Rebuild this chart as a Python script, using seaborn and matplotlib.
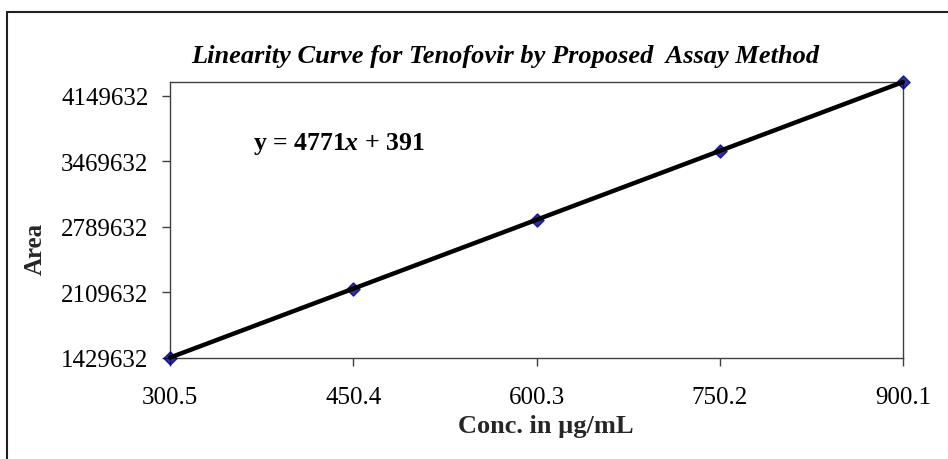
import numpy as np
import pandas as pd
import seaborn as sns
import matplotlib.pyplot as plt
from matplotlib.lines import Line2D

# values
conc = [300.5, 450.4, 600.3, 750.2, 900.1]
area = [1434100, 2149200, 2864400, 3579600, 4294800]
y_ticks = [1429632, 2109632, 2789632, 3469632, 4149632]
x_ticks = [300.5, 450.4, 600.3, 750.2, 900.1]

sns.set_theme()
sns.set_style("white")
plt.rcParams['font.family'] = ['Liberation Serif', 'DejaVu Serif']
plt.rcParams['text.color'] = 'black'
plt.rcParams['mathtext.fontset'] = 'custom'
plt.rcParams['mathtext.it'] = 'Liberation Serif:italic:bold'
plt.rcParams['mathtext.rm'] = 'Liberation Serif:bold'

df = pd.DataFrame({"conc": conc, "area": area})

fig = plt.figure(figsize=(9.48, 4.6), dpi=100)
ax = fig.add_axes([170/948, 101/460, 733/948, 276/460])

sns.regplot(x="conc", y="area", data=df, ax=ax, ci=None, truncate=True,
            marker="D", color="#000080",
            scatter_kws={"s": 45, "color": "#000080", "zorder": 3, "clip_on": False},
            line_kws={"color": "black", "lw": 3.2, "zorder": 4, "clip_on": False})

ax.set_xlim(conc[0], conc[-1])
ax.set_ylim(y_ticks[0], area[-1])
ax.set_xticks(x_ticks)
ax.set_xticklabels([f"{v:.1f}" for v in x_ticks])
ax.set_yticks(y_ticks)
ax.set_yticklabels([str(v) for v in y_ticks])

for s in ax.spines.values():
    s.set_color("#404040")
    s.set_linewidth(1.0)
    s.set_visible(True)

ax.tick_params(axis="both", direction="out", length=5.5, width=1, color="#404040",
               labelsize=18, labelcolor="black")
ax.tick_params(axis="x", pad=15, bottom=True)
ax.tick_params(axis="y", pad=10, left=True)

ax.set_xlabel("Conc. in µg/mL", fontsize=19, fontweight="bold", va="center")
ax.xaxis.set_label_coords(0.513, -0.246)
ax.set_ylabel("Area", fontsize=18, fontweight="bold", va="center")
ax.yaxis.set_label_coords(-0.184, 0.40)

ax.text(0.113, 0.78, r"y = 4771$\mathit{x}$ + 391", transform=ax.transAxes,
        fontsize=18.5, fontweight="bold", va="center", ha="left")

fig.text(505/948, 1 - 57/460, "Linearity Curve for Tenofovir by Proposed  Assay Method",
         fontsize=19, fontweight="bold", fontstyle="italic", ha="center", va="center")

# outer chart border (top and left edges visible)
fig.add_artist(Line2D([7/948, 1], [1 - 13/460, 1 - 13/460], color="#202020", lw=1.5))
fig.add_artist(Line2D([7/948, 7/948], [0, 1 - 13/460], color="#202020", lw=1.5))

fig.savefig("out.png", dpi=100)
